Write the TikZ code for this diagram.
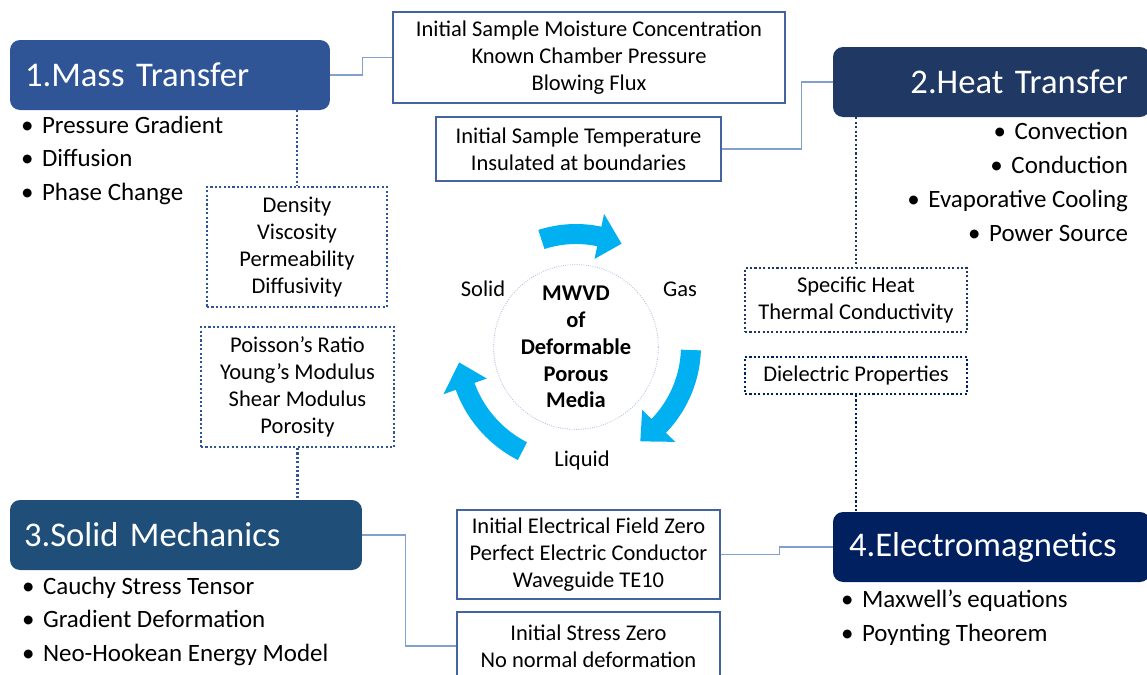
\documentclass[tikz,border=0pt]{standalone}
\usepackage{fontspec}
\setmainfont{Carlito}
\usetikzlibrary{positioning}

\definecolor{massblue}{RGB}{47,85,151}
\definecolor{heatblue}{RGB}{32,56,100}
\definecolor{solidblue}{RGB}{31,78,121}
\definecolor{emblue}{RGB}{0,32,96}
\definecolor{bcblue}{RGB}{68,100,160}
\definecolor{connblue}{RGB}{130,160,205}
\definecolor{cycblue}{RGB}{0,176,240}
\definecolor{ringgray}{RGB}{175,190,220}

\newcommand{\itm}{\makebox[0.42cm][l]{\textbullet}}
% curved block arrow: centre x, centre y, radius, start angle, end angle
\newcommand{\cycarrow}[5]{%
  \pgfmathsetmacro\hb{#5-12}%
  \fill[cycblue] plot[domain=#4:\hb, samples=20] ({#1+(#3+10)*cos(\x)},{#2+(#3+10)*sin(\x)})
    -- ({#1+(#3+23)*cos(\hb)},{#2+(#3+23)*sin(\hb)})
    -- ({#1+#3*cos(#5)},{#2+#3*sin(#5)})
    -- ({#1+(#3-23)*cos(\hb)},{#2+(#3-23)*sin(\hb)})
    -- plot[domain=\hb:#4, samples=20] ({#1+(#3-10)*cos(\x)},{#2+(#3-10)*sin(\x)})
    -- cycle;}

\begin{document}
\begin{tikzpicture}[
        x=0.02cm, y=-0.02cm,
        font=\fontsize{12.8}{15.3}\selectfont,
        header/.style={rectangle, rounded corners=0.2cm, text=white, font=\fontsize{19.7}{23}\selectfont, minimum height=1.4cm, inner ysep=0},
        bcbox/.style={rectangle, draw=bcblue, line width=0.7pt, align=center, inner sep=0},
        propbox/.style={rectangle, draw, line width=1.2pt, dash pattern=on 1.2pt off 1.3pt, align=center, inner sep=0},
        bullets/.style={inner sep=0, font=\fontsize{14.2}{19.3}\selectfont},
        conn/.style={draw=connblue, line width=0.8pt},
        link/.style={line width=1.2pt, dash pattern=on 1.2pt off 1.3pt}
    ]
        \useasboundingbox (0,0) rectangle (1147,674);
        \clip (0,0) rectangle (1147,674);

        % the four physics
        \node[header, fill=massblue, inner xsep=0.3cm, text width=5.8cm, align=left] (masshdr) at (170,75) {1.Mass Transfer};
        \node[header, fill=heatblue, inner xsep=0.44cm, text width=5.46cm, align=right] (heathdr) at (991.5,82) {2.Heat Transfer};
        \node[header, fill=solidblue, inner xsep=0.28cm, text width=6.48cm, align=left] (solidhdr) at (186,535) {3.Solid Mechanics};
        \node[header, fill=emblue, inner xsep=0.32cm, text width=5.7cm, align=left] (emhdr) at (991.5,547) {4.Electromagnetics};

        \node[bullets, align=left, below right=0.1cm and 0.22cm of masshdr.south west] (massitems) {\itm Pressure Gradient\\\itm Diffusion\\\itm Phase Change};
        \node[bullets, align=right, below left=0.1cm and 0.44cm of heathdr.south east] (heatitems) {\itm Convection\\\itm Conduction\\\itm Evaporative Cooling\\\itm Power Source};
        \node[bullets, align=left, below right=0.12cm and 0.24cm of solidhdr.south west] (soliditems) {\itm Cauchy Stress Tensor\\\itm Gradient Deformation\\\itm Neo-Hookean Energy Model};
        \node[bullets, align=left, below right=0.14cm and 0.16cm of emhdr.south west] (emitems) {\itm Maxwell’s equations\\\itm Poynting Theorem};

        % boundary and initial conditions
        \node[bcbox, minimum width=7.84cm, minimum height=1.82cm] (massbc) at (589,57.5) {Initial Sample Moisture Concentration\\Known Chamber Pressure\\Blowing Flux};
        \node[bcbox, minimum width=5.7cm, minimum height=1.28cm] (heatbc) at (578.5,149) {Initial Sample Temperature\\Insulated at boundaries};
        \node[bcbox, minimum width=5.26cm, minimum height=1.78cm] (embc) at (588.5,554.5) {Initial Electrical Field Zero\\Perfect Electric Conductor\\Waveguide TE10};
        \node[bcbox, minimum width=5.26cm, minimum height=1.36cm] (solidbc) at (588.5,646) {Initial Stress Zero\\No normal deformation};

        % material properties
        \node[propbox, draw=massblue, minimum width=3.6cm, minimum height=2.4cm] (massprop) at (297,247) {Density\\Viscosity\\Permeability\\Diffusivity};
        \node[propbox, draw=massblue, minimum width=3.86cm, minimum height=2.4cm] (solidprop) at (297.5,387) {Poisson’s Ratio\\Young’s Modulus\\Shear Modulus\\Porosity};
        \node[propbox, draw=heatblue, minimum width=4.44cm, minimum height=1.28cm] (heatprop) at (856,300) {Specific Heat\\Thermal Conductivity};
        \node[propbox, draw=emblue, minimum width=4.44cm, minimum height=0.74cm] (emprop) at (856,375.5) {Dielectric Properties};

        % centre cycle
        \node[circle, draw=ringgray, line width=0.5pt, dash pattern=on 0.5pt off 0.8pt, minimum size=3.2cm, inner sep=0, align=center, font=\fontsize{12.8}{15.3}\selectfont\bfseries] (core) at (576,347) {MWVD\\of\\Deformable\\Porous\\Media};
        \node (solid) at (483,289) {Solid};
        \node (gas) at (680,289) {Gas};
        \node (liquid) at (582,460) {Liquid};
        \cycarrow{576}{346}{112}{-108}{-66}
        \cycarrow{576}{346}{115}{2}{56}
        \cycarrow{576}{346}{118}{117}{172}

        \draw[conn] (masshdr.east) -- ++(32,0) |- (massbc.west);
        \draw[conn] (heatbc.east) -- ++(80,0) |- (heathdr.west);
        \draw[conn] (embc.east) -- ++(59,0) |- (emhdr.west);
        \draw[conn] (solidhdr.east) -- ++(43,0) |- (solidbc.west);

        \draw[link, massblue] (massprop.north |- masshdr.south) -- (massprop.north);
        \draw[link, massblue] (solidprop.south) -- (solidprop.south |- solidhdr.north);
        \draw[link, heatblue] (heatprop.north |- heathdr.south) -- (heatprop.north);
        \draw[link, emblue] (emprop.south) -- (emprop.south |- emhdr.north);
    \end{tikzpicture}
\end{document}
